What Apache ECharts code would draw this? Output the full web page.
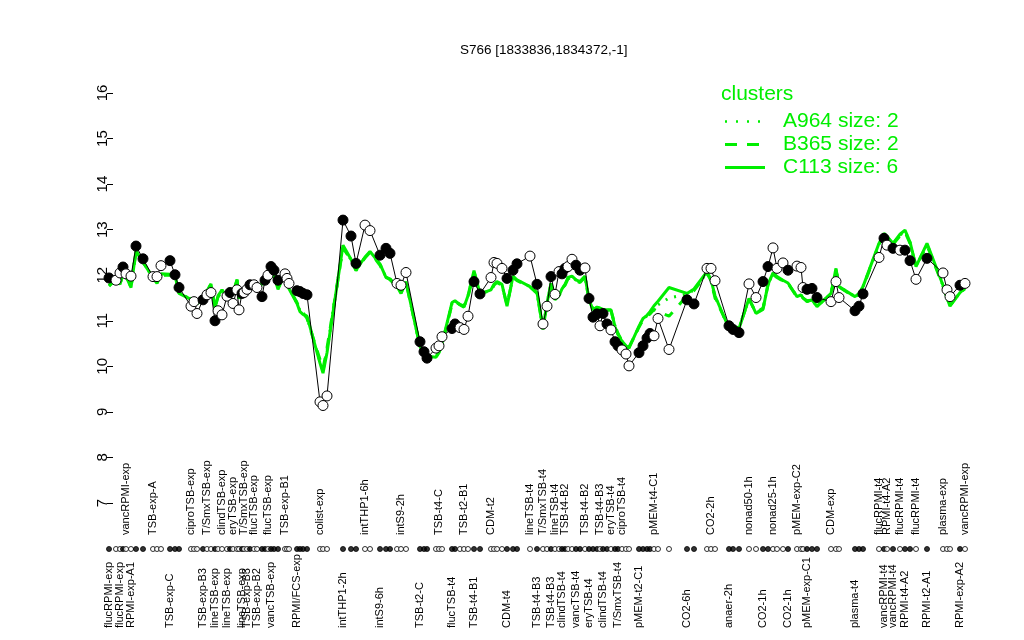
<!DOCTYPE html>
<html><head><meta charset="utf-8">
<script src="https://cdn.jsdelivr.net/npm/echarts@6/dist/echarts.min.js"></script>
<style>html,body{margin:0;padding:0;background:#fff}#c{width:1024px;height:640px}</style>
</head><body><div id="c"></div>
<script>
const names = [
"flucRPMI-exp","RPMI-exp-A2","flucRPMI-exp","vancRPMI-exp","vancRPMI-exp","RPMI-exp-A1","RPMI-exp-A1","RPMI-exp-A2",
"TSB-exp-A","TSB-exp-A","TSB-exp-A",
"TSB-exp-C","TSB-exp-C","TSB-exp-C",
"ciproTSB-exp","ciproTSB-exp","ciproTSB-exp",
"TSB-exp-B3","T/SmxTSB-exp","T/SmxTSB-exp","lineTSB-exp","clindTSB-exp","clindTSB-exp","lineTSB-exp","lineTSB-exp","eryTSB-exp","eryTSB-exp","lineTSB-exp","lineTSB-exp","T/SmxTSB-exp","TSB-exp-B3","flucTSB-exp","flucTSB-exp","TSB-exp-B2","TSB-exp-B2","flucTSB-exp","flucTSB-exp","vancTSB-exp","vancTSB-exp","TSB-exp-B2","TSB-exp-B1","TSB-exp-B1","TSB-exp-B1",
"RPMI/FCS-exp","RPMI/FCS-exp","RPMI/FCS-exp","RPMI/FCS-exp",
"colist-exp","colist-exp","colist-exp",
"intTHP1-2h","intTHP1-2h","intTHP1-2h",
"intTHP1-6h","intTHP1-6h",
"intS9-6h","intS9-6h","intS9-6h",
"intS9-2h","intS9-2h","intS9-2h",
"TSB-t2-C","TSB-t2-C","TSB-t2-C",
"TSB-t4-C","TSB-t4-C","TSB-t4-C",
"flucTSB-t4","flucTSB-t4","TSB-t2-B1","TSB-t2-B1","TSB-t2-B1","TSB-t4-B1","TSB-t4-B1",
"CDM-t2","CDM-t2","CDM-t2","CDM-t2","CDM-t4","CDM-t4","CDM-t4",
"lineTSB-t4",
"TSB-t4-B3","T/SmxTSB-t4","T/SmxTSB-t4","TSB-t4-B3","lineTSB-t4","lineTSB-t4","clindTSB-t4","TSB-t4-B2","TSB-t4-B2","TSB-t4-B2","vancTSB-t4","vancTSB-t4","TSB-t4-B2","eryTSB-t4","eryTSB-t4","clindTSB-t4","TSB-t4-B3","clindTSB-t4","T/SmxTSB-t4","eryTSB-t4","T/SmxTSB-t4","T/SmxTSB-t4","ciproTSB-t4","ciproTSB-t4","ciproTSB-t4",
"pMEM-t2-C1","pMEM-t2-C1","pMEM-t2-C1","pMEM-t2-C1","pMEM-t4-C1","pMEM-t4-C1","pMEM-t4-C1",
"CO2-6h","CO2-6h",
"CO2-2h","CO2-2h","CO2-2h",
"anaer-2h","anaer-2h","anaer-2h",
"nonad50-1h","nonad50-1h",
"CO2-1h","CO2-1h","nonad25-1h","nonad25-1h","nonad25-1h","CO2-1h",
"pMEM-exp-C2","pMEM-exp-C2","pMEM-exp-C2","pMEM-exp-C1","pMEM-exp-C1","pMEM-exp-C1",
"CDM-exp","CDM-exp","CDM-exp",
"plasma-t4","plasma-t4","plasma-t4",
"flucRPMI-t4","vancRPMI-t4","RPMI-t4-A2","vancRPMI-t4","flucRPMI-t4","RPMI-t4-A2","RPMI-t4-A2","flucRPMI-t4","RPMI-t2-A1",
"plasma-exp","plasma-exp","plasma-exp",
"RPMI-exp-A2","vancRPMI-exp"
];
const xPos = [
1.0,2.4,3.2,3.8,4.4,5.4,6.4,7.8,
9.8,10.6,11.4,
13.2,14.2,15.0,
17.4,18.0,18.6,
19.8,20.6,21.4,22.2,22.8,23.6,24.6,25.2,25.8,26.6,27.0,27.6,28.0,28.6,29.2,30.0,30.6,31.6,32.2,32.8,33.4,34.0,34.8,36.2,36.6,37.0,
38.6,39.2,39.8,40.6,
43.2,43.8,44.6,
47.8,49.4,50.4,
52.2,53.2,
55.2,56.4,57.2,
58.6,59.4,60.4,
63.2,64.0,64.6,
66.4,67.0,67.6,
69.6,70.2,71.2,72.0,72.8,74.0,75.2,
77.4,78.0,78.6,79.6,80.6,81.8,82.6,
85.2,
86.6,87.8,88.6,89.4,90.2,91.0,91.6,92.2,92.8,93.6,94.4,95.2,96.2,97.0,97.8,98.6,99.2,99.8,100.6,101.4,102.2,102.8,103.6,104.4,105.0,
107.0,107.8,108.6,109.2,110.0,110.8,113.0,
116.6,118.0,
120.6,121.4,122.2,
125.0,125.8,127.0,
129.0,130.4,
131.8,132.8,133.8,134.6,135.8,136.8,
138.6,139.4,139.8,140.6,141.6,142.6,
145.4,146.4,147.0,
150.2,151.0,151.8,
155.0,156.0,156.6,157.8,159.2,160.2,161.2,162.4,164.6,
167.8,168.6,169.2,
171.2,172.2
];
const values = [
11.94,11.89,12.05,12.18,12.03,11.98,12.64,12.36,
11.97,11.97,12.21,
12.32,12.01,11.73,
11.32,11.42,11.16,
11.46,11.57,11.62,11.00,11.22,11.13,11.54,11.62,11.38,11.68,11.24,11.60,11.62,11.69,11.79,11.79,11.73,11.53,11.89,12.00,12.19,12.11,11.89,12.03,11.93,11.82,
11.66,11.64,11.60,11.57,
9.22,9.14,9.35,
13.21,12.86,12.26,
13.10,12.98,
12.44,12.59,12.48,
11.82,11.78,12.06,
10.54,10.32,10.18,
10.40,10.45,10.65,
10.83,10.93,10.85,10.81,11.10,11.86,11.59,
11.95,12.28,12.26,12.15,11.93,12.11,12.25,
12.42,
11.80,10.93,11.32,11.97,11.58,12.08,12.03,12.15,12.19,12.35,12.22,12.11,12.16,11.49,11.08,11.15,10.89,11.16,10.93,10.80,10.54,10.45,10.36,10.27,10.01,
10.30,10.45,10.62,10.72,10.67,11.05,10.37,
11.46,11.37,
12.15,12.15,11.88,
10.89,10.81,10.74,
11.81,11.51,
11.86,12.19,12.60,12.15,12.27,12.11,
12.20,12.17,11.73,11.69,11.71,11.51,
11.42,11.86,11.51,
11.22,11.32,11.59,
12.39,12.81,12.66,12.59,12.55,12.55,12.32,11.91,12.37,
12.05,11.68,11.53,
11.78,11.82
];
const filled = [
1,0,0,1,0,0,1,1,
0,0,0,
1,1,1,
0,0,0,
1,0,0,1,0,0,0,1,0,0,0,1,0,0,1,0,0,1,1,0,1,1,1,0,0,0,
1,1,1,1,
0,0,0,
1,1,1,
0,0,
1,1,1,
0,0,0,
1,1,1,
0,0,0,
1,1,0,0,0,1,1,
0,0,0,0,1,1,1,
0,
1,0,0,1,0,0,1,1,0,0,1,1,0,1,1,1,0,1,1,0,1,1,0,0,0,
1,1,1,1,0,0,0,
1,1,
0,0,0,
1,1,1,
0,0,
1,1,0,0,0,1,
0,0,0,1,1,1,
0,0,0,
1,1,1,
0,1,0,1,0,1,1,0,1,
0,0,0,
1,0
];
// 1 = label above the strip, -1 = label below, 0 = not labelled
const labelSide = [
-1,1,-1,0,1,-1,0,0,
1,0,0,
-1,0,0,
1,0,0,
-1,1,0,-1,0,1,-1,0,1,0,0,-1,1,-1,0,1,-1,0,0,1,-1,0,0,1,0,0,
-1,0,0,0,
1,0,0,
-1,0,0,
1,0,
-1,0,0,
0,1,0,
-1,0,0,
0,1,0,
-1,0,0,1,0,-1,0,
1,0,0,0,-1,0,0,
1,
-1,1,0,-1,1,0,-1,1,0,0,-1,0,1,-1,0,0,1,-1,0,1,0,-1,1,0,0,
-1,0,0,0,1,0,0,
-1,0,
0,1,0,
-1,0,0,
1,0,
-1,0,1,0,0,-1,
1,0,0,-1,0,0,
1,0,0,
-1,0,0,
1,-1,1,-1,1,-1,0,1,-1,
1,0,0,
-1,1
];
const clusterC113 = [
11.76,11.92,11.80,12.03,11.98,11.73,12.54,12.28,
11.95,11.82,12.03,
12.02,12.00,11.60,
11.47,11.42,11.37,
11.50,11.66,11.81,11.27,11.55,11.68,11.52,11.70,11.60,11.91,11.49,11.60,11.70,11.73,11.72,11.76,11.78,11.80,11.85,11.92,12.00,12.00,11.69,12.08,11.90,11.70,
11.38,11.20,11.14,11.10,
10.07,9.85,10.30,
12.66,12.35,12.11,
12.40,12.52,
12.25,11.95,11.92,
11.75,11.60,11.86,
10.43,10.30,10.22,
10.20,10.30,10.50,
11.40,11.44,11.35,11.30,11.55,12.10,11.59,
11.68,11.80,11.86,11.80,11.32,11.98,11.90,
11.75,
11.62,10.81,11.39,11.82,11.46,11.55,11.70,11.80,11.95,11.98,11.90,11.86,11.98,11.46,11.24,11.30,11.28,11.25,11.24,11.24,10.87,10.70,10.55,10.45,10.40,
10.88,11.05,11.12,11.20,11.33,11.43,11.73,
11.60,11.70,
12.08,11.90,11.55,
10.83,10.85,10.83,
11.49,11.16,
11.25,11.80,12.05,11.97,11.89,11.83,
11.53,11.57,11.50,11.42,11.46,11.31,
11.60,12.15,11.75,
11.53,11.60,11.75,
12.70,12.92,12.85,12.70,12.90,12.99,12.73,12.19,12.70,
11.78,11.50,11.32,
11.62,11.72
];
const clusterB365 = [
11.78,11.90,11.82,12.00,11.96,11.75,12.50,12.30,
11.93,11.84,12.00,
12.00,11.98,11.62,
11.48,11.40,11.35,
11.52,11.64,11.78,11.30,11.52,11.66,11.55,11.68,11.62,11.88,11.50,11.62,11.68,11.72,11.73,11.75,11.77,11.78,11.84,11.90,11.98,11.98,11.72,12.05,11.88,11.72,
11.40,11.25,11.18,11.05,
10.15,9.95,10.40,
12.60,12.33,12.10,
12.38,12.50,
12.22,11.96,11.90,
11.74,11.62,11.84,
10.45,10.32,10.25,
10.22,10.32,10.48,
11.36,11.42,11.36,11.32,11.52,12.06,11.60,
11.66,11.78,11.84,11.78,11.35,11.95,11.88,
11.74,
11.60,10.84,11.36,11.80,11.48,11.56,11.68,11.78,11.92,11.96,11.88,11.84,11.95,11.48,11.26,11.28,11.26,11.24,11.22,11.22,10.90,10.72,10.56,10.46,10.42,
10.86,11.02,11.10,11.15,11.25,11.20,11.10,
11.55,11.66,
12.04,11.88,11.50,
10.85,10.87,10.85,
11.47,11.18,
11.28,11.78,12.02,11.95,11.87,11.82,
11.52,11.55,11.50,11.44,11.45,11.33,
11.58,12.12,11.74,
11.52,11.58,11.74,
12.66,12.88,12.82,12.68,12.86,12.95,12.70,12.20,12.66,
11.76,11.50,11.34,
11.62,11.70
];
const clusterA964 = [
11.77,11.91,11.81,12.01,11.97,11.74,12.52,12.29,
11.94,11.83,12.01,
12.01,11.99,11.61,
11.47,11.41,11.36,
11.51,11.65,11.80,11.28,11.54,11.67,11.53,11.69,11.61,11.90,11.49,11.61,11.69,11.73,11.72,11.76,11.78,11.79,11.85,11.91,11.99,11.99,11.70,12.07,11.89,11.71,
11.39,11.22,11.16,11.08,
10.10,9.90,10.35,
12.63,12.34,12.11,
12.39,12.51,
12.24,11.95,11.91,
11.75,11.61,11.85,
10.44,10.31,10.23,
10.21,10.31,10.49,
11.38,11.43,11.35,11.31,11.54,12.08,11.59,
11.67,11.79,11.85,11.79,11.33,11.97,11.89,
11.75,
11.61,10.82,11.38,11.81,11.47,11.55,11.69,11.79,11.94,11.97,11.89,11.85,11.97,11.47,11.25,11.29,11.27,11.25,11.23,11.23,10.88,10.71,10.55,10.45,10.41,
10.87,11.04,11.11,11.18,11.30,11.35,11.50,
11.58,11.68,
12.06,11.89,11.53,
10.84,10.86,10.84,
11.48,11.17,
11.26,11.79,12.04,11.96,11.88,11.83,
11.53,11.56,11.50,11.43,11.46,11.32,
11.59,12.14,11.75,
11.53,11.59,11.75,
12.68,12.90,12.84,12.69,12.88,12.97,12.72,12.20,12.68,
11.77,11.50,11.33,
11.62,11.71
];
const yTicks = [7,8,9,10,11,12,13,14,15,16];
const titleText = "S766 [1833836,1834372,-1]";
const legendNames = ["A964 size: 2","B365 size: 2","C113 size: 6"];

const FONT = "'Liberation Sans', Arial, Helvetica, sans-serif";
const GREEN = "#00ee00";
const X_MIN = 0, X_MAX = 173.6;

// legend sample icons (dotted, dashed, solid) drawn as small filled paths
const legendIcons = [
  'path://M0,0h2v2.5h-2zM11,0h2v2.5h-2zM22,0h2v2.5h-2zM33,0h2v2.5h-2zM39.9,0h0.1v0.1h-0.1z',
  'path://M0,0h12v3h-12zM22,0h12v3h-12zM39.9,0h0.1v0.1h-0.1z',
  'path://M0,0h40v3h-40z'
];

const pts = xPos.map((x, i) => ({
  value: [x, values[i]],
  itemStyle: { color: filled[i] ? '#000' : '#fff', borderColor: '#000', borderWidth: 1 }
}));
const stripPts = xPos.map((x, i) => ({
  value: [x, 0],
  itemStyle: { color: filled[i] ? '#000' : '#fff', borderColor: '#000', borderWidth: 1 }
}));
const aboveMap = {}, belowMap = {}, aboveVals = [], belowVals = [];
xPos.forEach((x, i) => {
  const k = x.toFixed(1);
  if (labelSide[i] === 1) { aboveMap[k] = names[i]; aboveVals.push(x); }
  if (labelSide[i] === -1) { belowMap[k] = names[i]; belowVals.push(x); }
});
const clusterLine = (arr) => xPos.map((x, i) => [x, arr[i]]);

const chart = echarts.init(document.getElementById('c'), null, { renderer: 'canvas' });
chart.setOption({
  backgroundColor: '#fff',
  animation: false,
  textStyle: { fontFamily: FONT },
  title: [
    { text: titleText, left: 455, top: 38,
      textStyle: { fontFamily: FONT, fontSize: 13.5, fontWeight: 'normal', color: '#000' } },
    { text: 'clusters', left: 716, top: 79,
      textStyle: { fontFamily: FONT, fontSize: 21, fontWeight: 'normal', color: GREEN } }
  ],
  legend: {
    data: legendNames.map((n, i) => ({ name: n, icon: legendIcons[i] })),
    orient: 'vertical', left: 720, top: 106,
    itemWidth: 40, itemHeight: 3, itemGap: 2,
    textStyle: { fontFamily: FONT, fontSize: 21, lineHeight: 21, color: GREEN, padding: [0, 0, 0, 13] },
    selectedMode: false
  },
  grid: [
    { left: 104, right: 52, top: 93, bottom: 137 },
    { left: 104, right: 52, top: 546, height: 6 },
    { left: 104, right: 52, top: 630, height: 2 }
  ],
  xAxis: [
    { gridIndex: 0, type: 'value', min: X_MIN, max: X_MAX, show: false },
    { gridIndex: 1, type: 'value', min: X_MIN, max: X_MAX, position: 'top',
      axisLine: { show: false }, axisTick: { show: false }, splitLine: { show: false },
      axisLabel: { customValues: aboveVals, rotate: 90, margin: 11, fontSize: 11, color: '#000', fontFamily: FONT,
        formatter: v => aboveMap[v.toFixed(1)] || '' } },
    { gridIndex: 2, type: 'value', min: X_MIN, max: X_MAX, position: 'top',
      axisLine: { show: false }, axisTick: { show: false }, splitLine: { show: false },
      axisLabel: { customValues: belowVals, rotate: 90, margin: 2, fontSize: 11, color: '#000', fontFamily: FONT,
        formatter: v => belowMap[v.toFixed(1)] || '' } }
  ],
  yAxis: [
    { gridIndex: 0, type: 'value', min: 7, max: 16, interval: 1, offset: -9,
      axisLine: { show: false },
      axisTick: { show: true, length: 6, lineStyle: { color: '#000' } },
      splitLine: { show: false },
      axisLabel: { rotate: 90, margin: 3, fontSize: 15, color: '#000', fontFamily: FONT,
        customValues: yTicks, formatter: v => String(v) } },
    { gridIndex: 1, type: 'value', min: -1, max: 1, show: false },
    { gridIndex: 2, type: 'value', min: -1, max: 1, show: false }
  ],
  series: [
    { name: legendNames[0], type: 'line', xAxisIndex: 0, yAxisIndex: 0, data: clusterLine(clusterA964),
      symbol: 'none', lineStyle: { color: GREEN, width: 3, type: [2, 7] }, itemStyle: { color: GREEN }, z: 2 },
    { name: legendNames[1], type: 'line', xAxisIndex: 0, yAxisIndex: 0, data: clusterLine(clusterB365),
      symbol: 'none', lineStyle: { color: GREEN, width: 3, type: [10, 10] }, itemStyle: { color: GREEN }, z: 2 },
    { name: legendNames[2], type: 'line', xAxisIndex: 0, yAxisIndex: 0, data: clusterLine(clusterC113),
      symbol: 'none', lineStyle: { color: GREEN, width: 3 }, itemStyle: { color: GREEN }, z: 3 },
    { name: 'S766', type: 'line', xAxisIndex: 0, yAxisIndex: 0, data: pts,
      symbol: 'circle', symbolSize: 10, showAllSymbol: true,
      lineStyle: { color: '#000', width: 1 }, z: 5 },
    { name: 'strip', type: 'scatter', xAxisIndex: 1, yAxisIndex: 1, data: stripPts,
      symbol: 'circle', symbolSize: 5, z: 5 }
  ]
});
</script>
</body></html>
